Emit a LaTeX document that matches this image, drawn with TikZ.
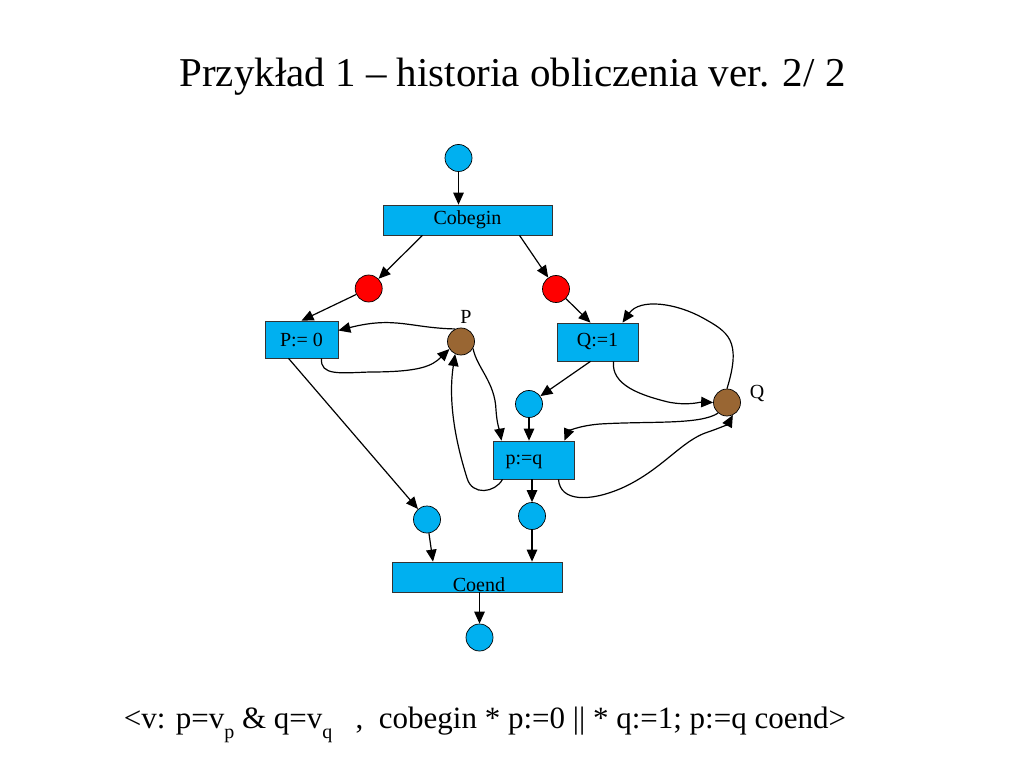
\documentclass[tikz,border=0pt]{standalone}
\usepackage{fontspec}
\setmainfont{Liberation Serif}
\usetikzlibrary{arrows.meta,calc}
\definecolor{pblue}{RGB}{0,176,240}
\definecolor{pred}{RGB}{255,0,0}
\definecolor{pbrown}{RGB}{153,102,51}
\tikzset{
  conn/.style={line width=1.2pt,-{Triangle[length=12pt,width=10.5pt]}},
  place/.style={circle,draw=black,line width=0.7pt,minimum size=27pt,inner sep=0pt},
  bplace/.style={place,fill=pblue},
  rplace/.style={place,fill=pred},
  brplace/.style={place,fill=pbrown},
  trans/.style={rectangle,draw=black!80,line width=0.7pt,fill=pblue,inner sep=0pt},
  lbl/.style={font=\fontsize{20}{24}\selectfont,inner sep=0pt}
}
\begin{document}
\begin{tikzpicture}[x=1pt,y=-1pt]
\useasboundingbox (0,0) rectangle (1023,767);
% title
\node[font=\fontsize{41}{48}\selectfont,inner sep=0pt] (title) at (512.5,77) {Przykład 1 – historia obliczenia ver. 2/ 2};
% places
\node[bplace] (t) at (458.5,158) {};
\node[rplace] (rL) at (368.7,288.5) {};
\node[rplace] (rR) at (556,289) {};
\node[brplace] (pP) at (461,341.5) {};
\node[brplace] (qQ) at (727,402.5) {};
\node[bplace] (bq) at (529,404) {};
\node[bplace] (b1) at (427,519.5) {};
\node[bplace] (b2) at (532,516) {};
\node[bplace] (bot) at (479.5,637.5) {};
% labels of places
\node[lbl] (lP) at (466,317) {P};
\node[lbl] (lQ) at (757,394) {Q};
% transitions
\node[trans,minimum width=169pt,minimum height=30pt,lbl] (cb) at (467.5,220) {Cobegin};
\node[trans,minimum width=73pt,minimum height=37pt,lbl] (p0) at (301.5,339.5) {P:= 0};
\node[trans,minimum width=81pt,minimum height=38pt,lbl] (q1) at (597.5,342) {Q:=1};
\node[trans,minimum width=81pt,minimum height=38pt] (pq) at (533.5,460) {};
\node[lbl] (pqt) at (524,462) {p:=q};
\node[trans,minimum width=170pt,minimum height=30pt] (ce) at (477,577) {};
\node[lbl,anchor=base] (cet) at (479,591) {Coend};
% straight connectors
\draw[conn] (t.south) -- (t.south |- cb.north);
\draw[conn] ($(cb.south)+(-45,0)$) -- (rL);
\draw[conn] ($(cb.south)+(52,0)$) -- (rR);
\draw[conn] (rL) -- (p0.north);
\draw[conn] (rR) -- ($(q1.north)+(-7,0)$);
\draw[conn] ($(q1.south)+(-7,0)$) -- (bq);
\draw[conn] (bq.south) -- (bq.south |- pq.north);
\draw[conn] (b2.north |- pq.south) -- (b2.north);
\draw[conn] ($(p0.south)+(-13,0)$) -- (b1);
\draw[conn] (b1) -- ($(ce.north)+(-44,0)$);
\draw[conn] (b2.south) -- (b2.south |- ce.north);
\draw[conn] (bot.north |- ce.south) -- (bot.north);
% curved connectors
\draw[conn] (pP.115) .. controls (410,328) and (395,316) .. ($(p0.east)+(0,-9)$);
\draw[conn] ($(p0.south)+(20,0)$) .. controls (320,376) and (340,373) .. (370,372)
  .. controls (420,372) and (432,366) .. (pP.213);
\draw[conn] (pP.-30) .. controls (477,368) and (495,382) .. (496,410)
  .. controls (497,425) and (500,432) .. ($(pq.north)+(-32,0)$);
\draw[conn] ($(pq.south)+(-31,0)$) .. controls (495,493) and (472,496) .. (467,478)
  .. controls (455,440) and (448,400) .. (pP.245);
\draw[conn] ($(q1.south)+(16,0)$) .. controls (611,385) and (640,395) .. (668,402)
  .. controls (688,406) and (700,402) .. (qQ.west);
\draw[conn] (qQ.north) .. controls (742,340) and (728,332) .. (703,318)
  .. controls (676,303) and (640,298) .. ($(q1.north)+(25,0)$);
\draw[conn] (qQ.230) .. controls (700,425) and (650,421) .. (600,424)
  .. controls (576,426) and (568,432) .. ($(pq.north)+(31,0)$);
\draw[conn] ($(pq.south)+(25,0)$) .. controls (560,502) and (590,502) .. (622,488)
  .. controls (662,470) and (682,440) .. (708,432)
  .. controls (720,428) and (728,424) .. (qQ.-65);
% bottom formula
\node[font=\fontsize{31}{36}\selectfont,inner sep=0pt,anchor=base] (formula) at (485,728)
  {<v: p=v\raisebox{-0.35em}{\fontsize{20}{22}\selectfont p} \& q=v\raisebox{-0.35em}{\fontsize{20}{22}\selectfont q}\ \ \ ,\ \ cobegin * p:=0 || * q:=1; p:=q coend>};
\end{tikzpicture}
\end{document}
